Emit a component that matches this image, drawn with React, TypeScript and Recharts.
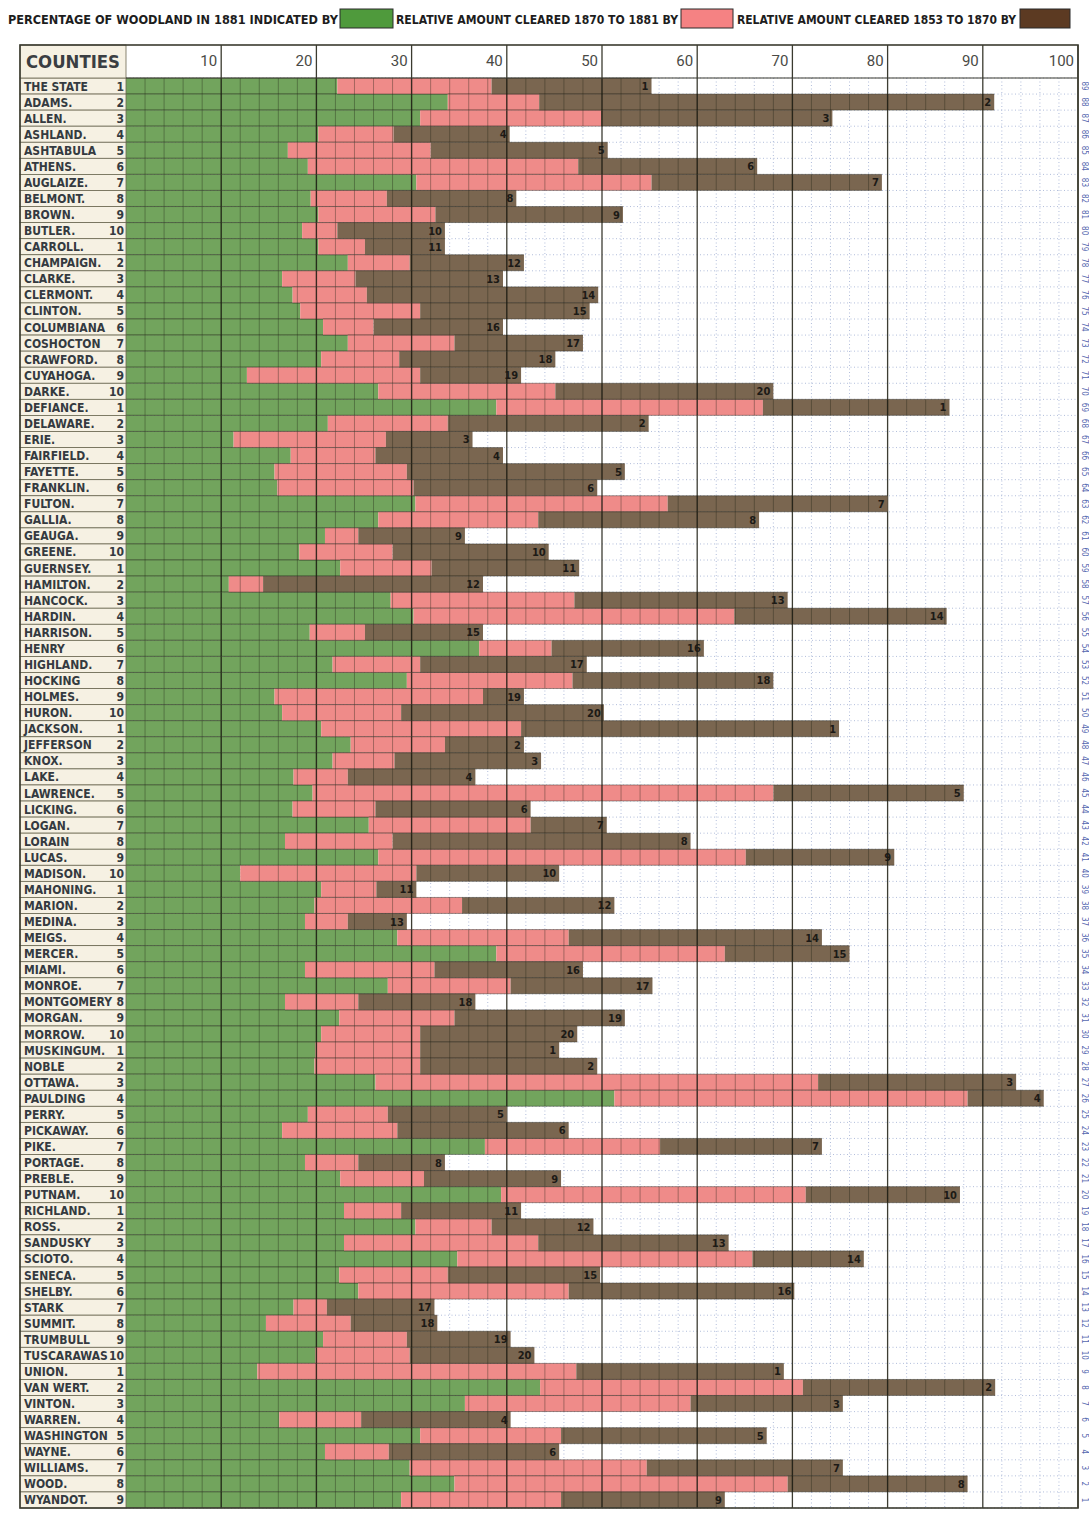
import React from "react";
import { BarChart, Bar, XAxis, YAxis, CartesianGrid, LabelList } from "recharts";

// rows, top to bottom
const counties = [
  "THE STATE", "ADAMS.", "ALLEN.", "ASHLAND.", "ASHTABULA", "ATHENS.", "AUGLAIZE.", "BELMONT.", "BROWN.", "BUTLER.",
  "CARROLL.", "CHAMPAIGN.", "CLARKE.", "CLERMONT.", "CLINTON.", "COLUMBIANA", "COSHOCTON", "CRAWFORD.", "CUYAHOGA.", "DARKE.",
  "DEFIANCE.", "DELAWARE.", "ERIE.", "FAIRFIELD.", "FAYETTE.", "FRANKLIN.", "FULTON.", "GALLIA.", "GEAUGA.", "GREENE.",
  "GUERNSEY.", "HAMILTON.", "HANCOCK.", "HARDIN.", "HARRISON.", "HENRY", "HIGHLAND.", "HOCKING", "HOLMES.", "HURON.",
  "JACKSON.", "JEFFERSON", "KNOX.", "LAKE.", "LAWRENCE.", "LICKING.", "LOGAN.", "LORAIN", "LUCAS.", "MADISON.",
  "MAHONING.", "MARION.", "MEDINA.", "MEIGS.", "MERCER.", "MIAMI.", "MONROE.", "MONTGOMERY", "MORGAN.", "MORROW.",
  "MUSKINGUM.", "NOBLE", "OTTAWA.", "PAULDING", "PERRY.", "PICKAWAY.", "PIKE.", "PORTAGE.", "PREBLE.", "PUTNAM.",
  "RICHLAND.", "ROSS.", "SANDUSKY", "SCIOTO.", "SENECA.", "SHELBY.", "STARK", "SUMMIT.", "TRUMBULL", "TUSCARAWAS",
  "UNION.", "VAN WERT.", "VINTON.", "WARREN.", "WASHINGTON", "WAYNE.", "WILLIAMS.", "WOOD.", "WYANDOT.",
];

// percentage of woodland in 1881 (green)
const woodland1881 = [
  22.2, 33.8, 30.9, 20.2, 17.0, 19.1, 30.5, 19.4, 20.2, 18.5,
  20.2, 23.3, 16.4, 17.5, 18.3, 20.7, 23.3, 20.5, 12.7, 26.5,
  38.9, 21.2, 11.3, 17.3, 15.6, 15.9, 30.4, 26.5, 20.9, 18.2,
  22.5, 10.8, 27.8, 30.2, 19.3, 37.1, 21.7, 29.5, 15.6, 16.4,
  20.5, 23.6, 21.7, 17.6, 19.6, 17.5, 25.5, 16.7, 26.5, 12.0,
  20.5, 19.8, 18.8, 28.5, 38.9, 18.8, 27.5, 16.7, 22.4, 20.5,
  19.9, 19.8, 26.2, 51.3, 19.1, 16.4, 37.7, 18.8, 22.5, 39.4,
  22.9, 30.4, 22.9, 34.8, 22.4, 24.4, 17.6, 14.7, 20.7, 19.9,
  13.8, 43.5, 35.6, 16.1, 30.9, 20.9, 29.8, 34.5, 28.9,
];

// relative amount cleared 1870 to 1881 (pink)
const cleared1870to1881 = [
  16.2, 9.6, 19.0, 7.9, 15.0, 28.4, 24.7, 8.0, 12.3, 3.7,
  4.9, 6.5, 7.7, 7.8, 12.6, 5.3, 11.2, 8.2, 18.2, 18.6,
  28.0, 12.6, 16.0, 8.9, 13.9, 14.3, 26.5, 16.8, 3.5, 9.8,
  9.6, 3.6, 19.3, 33.7, 5.8, 7.6, 9.2, 17.4, 21.9, 12.5,
  21.0, 9.9, 6.5, 5.7, 48.4, 8.7, 17.0, 11.3, 38.6, 18.5,
  5.8, 15.5, 4.5, 18.0, 24.0, 13.6, 12.9, 7.7, 12.1, 10.4,
  11.0, 11.1, 46.5, 37.1, 8.4, 12.1, 18.4, 5.6, 8.8, 32.0,
  6.0, 8.0, 20.4, 31.0, 11.4, 22.1, 3.5, 8.9, 8.8, 9.9,
  33.5, 27.6, 23.7, 8.6, 14.8, 6.7, 24.9, 35.0, 16.8,
];

// relative amount cleared 1853 to 1870 (brown)
const cleared1853to1870 = [
  16.8, 47.8, 24.3, 12.2, 18.6, 18.8, 24.2, 13.6, 19.7, 11.3,
  8.4, 12.0, 15.5, 24.3, 17.8, 13.6, 13.5, 16.4, 10.6, 22.9,
  19.6, 21.1, 9.1, 13.4, 22.9, 19.3, 23.1, 23.2, 11.2, 16.4,
  15.5, 23.1, 22.4, 22.3, 12.4, 16.0, 17.5, 21.1, 4.3, 21.3,
  33.4, 8.3, 15.4, 13.4, 20.0, 16.3, 8.0, 31.3, 15.6, 15.0,
  4.2, 16.0, 6.2, 26.6, 13.1, 15.6, 14.9, 12.3, 17.9, 16.5,
  14.6, 18.6, 20.8, 8.0, 12.5, 18.0, 17.0, 9.1, 14.4, 16.2,
  12.6, 10.7, 20.0, 11.7, 16.0, 23.7, 11.3, 9.1, 10.9, 13.1,
  21.8, 20.2, 16.0, 15.7, 21.6, 17.9, 20.6, 18.9, 17.2,
];

const xTicks = [10, 20, 30, 40, 50, 60, 70, 80, 90, 100];
const minorTicks = [2, 4, 6, 8, 12, 14, 16, 18, 22, 24, 26, 28, 32, 34, 36, 38, 42, 44, 46, 48, 52, 54, 56, 58, 62, 64, 66, 68, 72, 74, 76, 78, 82, 84, 86, 88, 92, 94, 96, 98];

const GREEN = "#72a45d";
const PINK = "#ef8b89";
const BROWN = "#7a6650";
const FONT = "'DejaVu Sans Condensed', 'Liberation Sans Narrow', Roboto, sans-serif";

const CHART_W = 1089;
const CHART_H = 1513;
const MARGIN = { top: 45, right: 0, bottom: 5, left: 20 };
const LABEL_W = 106;
const SIDE_W = 11;
const HEADER_H = 33;
const PLOT_TOP = MARGIN.top + HEADER_H;
const PLOT_LEFT = MARGIN.left + LABEL_W;
const PLOT_RIGHT = CHART_W - MARGIN.right - SIDE_W;
const PLOT_BOTTOM = CHART_H - MARGIN.bottom;
const ROW_H = (PLOT_BOTTOM - PLOT_TOP) / counties.length;

const data = counties.map((name, i) => ({
  name,
  woodland: woodland1881[i],
  recent: cleared1870to1881[i],
  earlier: cleared1853to1870[i],
  rowNo: (i % 10) + 1,
  endLabel: (i % 20) + 1,
  sideNo: counties.length - i,
}));

const xPos = (xAxis: any, v: number) =>
  xAxis && typeof xAxis.scale === "function" ? xAxis.scale(v) : PLOT_LEFT + (v / 100) * (PLOT_RIGHT - PLOT_LEFT);

// bar segment with the ruled paper showing through
const gridded = (fill: string, key: string, before: string[]) => (props: any) => {
  const { x, y, width, height, payload } = props;
  if (!width || width <= 0) return <g />;
  const value = payload[key];
  const start = before.reduce((s, k) => s + payload[k], 0);
  const ppu = width / value;
  const lines = [];
  for (let u = 2; u < 100; u += 2) {
    if (u <= start || u >= start + value) continue;
    const px = x + (u - start) * ppu;
    const major = u % 10 === 0;
    lines.push(
      <line key={u} x1={px} x2={px} y1={y} y2={y + height}
        stroke={major ? "rgba(25,25,15,0.85)" : "rgba(30,35,20,0.4)"} strokeWidth={major ? 1.4 : 0.9} />
    );
  }
  return (
    <g>
      <rect x={x} y={y} width={width} height={height} fill={fill} />
      {lines}
      <line x1={x} x2={x + width} y1={y} y2={y} stroke="rgba(30,30,20,0.45)" strokeWidth={0.9} />
      <line x1={x} x2={x + width} y1={y + height} y2={y + height} stroke="rgba(30,30,20,0.45)" strokeWidth={0.9} />
    </g>
  );
};

const TopTick = (props: any) => {
  const { x, payload } = props;
  return (
    <g>
      <line x1={x} x2={x} y1={MARGIN.top} y2={PLOT_TOP} stroke="#3b3b30" strokeWidth={1.3} />
      <text x={x - 4} y={PLOT_TOP - 12} textAnchor="end" fontSize={15} fill="#4a4a46" fontFamily="Roboto, sans-serif">
        {payload.value}
      </text>
    </g>
  );
};

const CountyTick = (props: any) => {
  const { y, payload } = props;
  const row = data[counties.indexOf(payload.value)];
  const top = y - ROW_H / 2;
  return (
    <g>
      <rect x={MARGIN.left} y={top} width={LABEL_W} height={ROW_H} fill="#f6f1e3" stroke="#6b6852" strokeWidth={0.8} />
      <text x={MARGIN.left + 4} y={y + 4.5} fontSize={12} fontWeight="bold" fill="#343a40" fontFamily={FONT}>
        {payload.value}
      </text>
      <text x={PLOT_LEFT - 2} y={y + 4.5} fontSize={12} fontWeight="bold" fill="#343a40" fontFamily={FONT} textAnchor="end">
        {row ? row.rowNo : ""}
      </text>
    </g>
  );
};

const SideTick = (props: any) => {
  const { y, payload } = props;
  const row = data[counties.indexOf(payload.value)];
  const cx = PLOT_RIGHT + 6;
  return (
    <text x={cx} y={y} fontSize={8} fill="#5468b0" textAnchor="middle" dominantBaseline="central"
      fontFamily={FONT} transform={`rotate(90 ${cx} ${y})`}>
      {row ? row.sideNo : ""}
    </text>
  );
};

const EndLabel = (props: any) => {
  const { x, y, width, height, value } = props;
  return (
    <text x={x + width - 3} y={y + height / 2 + 4} textAnchor="end" fontSize={11} fontWeight="bold"
      fill="#1c1a16" fontFamily={FONT}>
      {value}
    </text>
  );
};

export default function App() {
  return (
    <div style={{ position: "absolute", left: 0, top: 0, width: CHART_W, height: CHART_H, background: "#fff" }}>
      <BarChart width={CHART_W} height={CHART_H} data={data} layout="vertical" margin={MARGIN} barCategoryGap={0} barGap={0}>
        <CartesianGrid stroke="#9eadd2" strokeWidth={0.8} strokeDasharray="1 2.5"
          verticalCoordinatesGenerator={({ xAxis }: any) => minorTicks.map((v) => xPos(xAxis, v))}
          horizontalCoordinatesGenerator={() => counties.map((_, i) => PLOT_TOP + i * ROW_H).concat([PLOT_BOTTOM])} />
        <CartesianGrid stroke="#3d3d33" strokeWidth={1.3} horizontal={false}
          verticalCoordinatesGenerator={({ xAxis }: any) => xTicks.map((v) => xPos(xAxis, v))} />
        <XAxis type="number" orientation="top" domain={[0, 100]} ticks={xTicks} interval={0} height={HEADER_H}
          axisLine={false} tickLine={false} tick={<TopTick />} />
        <YAxis type="category" dataKey="name" width={LABEL_W} interval={0} axisLine={false} tickLine={false} tick={<CountyTick />} />
        <YAxis yAxisId="side" orientation="right" type="category" dataKey="name" width={SIDE_W} interval={0}
          axisLine={false} tickLine={false} tick={<SideTick />} />
        <Bar dataKey="woodland" stackId="s" fill={GREEN} isAnimationActive={false}
          shape={gridded(GREEN, "woodland", [])} />
        <Bar dataKey="recent" stackId="s" fill={PINK} isAnimationActive={false}
          shape={gridded(PINK, "recent", ["woodland"])} />
        <Bar dataKey="earlier" stackId="s" fill={BROWN} isAnimationActive={false}
          shape={gridded(BROWN, "earlier", ["woodland", "recent"])}>
          <LabelList dataKey="endLabel" content={<EndLabel />} />
        </Bar>
      </BarChart>
      <svg width={CHART_W} height={CHART_H} style={{ position: "absolute", left: 0, top: 0, pointerEvents: "none" }}>
        <g fontFamily={FONT} fontWeight="bold" fontSize={13} fill="#1d1d1d">
          <text x={8} y={24} textLength={330} lengthAdjust="spacingAndGlyphs">PERCENTAGE OF WOODLAND IN 1881 INDICATED BY</text>
          <rect x={340} y={9} width={53} height={19} fill="#4f9a3c" stroke="#2b2b2b" />
          <text x={396} y={24} textLength={282} lengthAdjust="spacingAndGlyphs">RELATIVE AMOUNT CLEARED 1870 TO 1881 BY</text>
          <rect x={681} y={9} width={52} height={19} fill="#f58283" stroke="#2b2b2b" />
          <text x={737} y={24} textLength={279} lengthAdjust="spacingAndGlyphs">RELATIVE AMOUNT CLEARED 1853 TO 1870 BY</text>
          <rect x={1020} y={9} width={50} height={19} fill="#5c3a22" stroke="#2b2b2b" />
        </g>
        <rect x={MARGIN.left} y={MARGIN.top} width={LABEL_W} height={HEADER_H} fill="#f6f1e3" stroke="#6b6852" strokeWidth={0.8} />
        <text x={MARGIN.left + 6} y={PLOT_TOP - 10} fontFamily={FONT} fontWeight="bold" fontSize={17} fill="#3a3e42"
          textLength={94} lengthAdjust="spacingAndGlyphs">COUNTIES</text>
        <line x1={PLOT_LEFT} x2={PLOT_RIGHT} y1={PLOT_TOP} y2={PLOT_TOP} stroke="#3b3b30" strokeWidth={1.2} />
        <rect x={MARGIN.left} y={MARGIN.top} width={PLOT_RIGHT - MARGIN.left} height={PLOT_BOTTOM - MARGIN.top}
          fill="none" stroke="#3b3b30" strokeWidth={1.6} />
      </svg>
    </div>
  );
}
